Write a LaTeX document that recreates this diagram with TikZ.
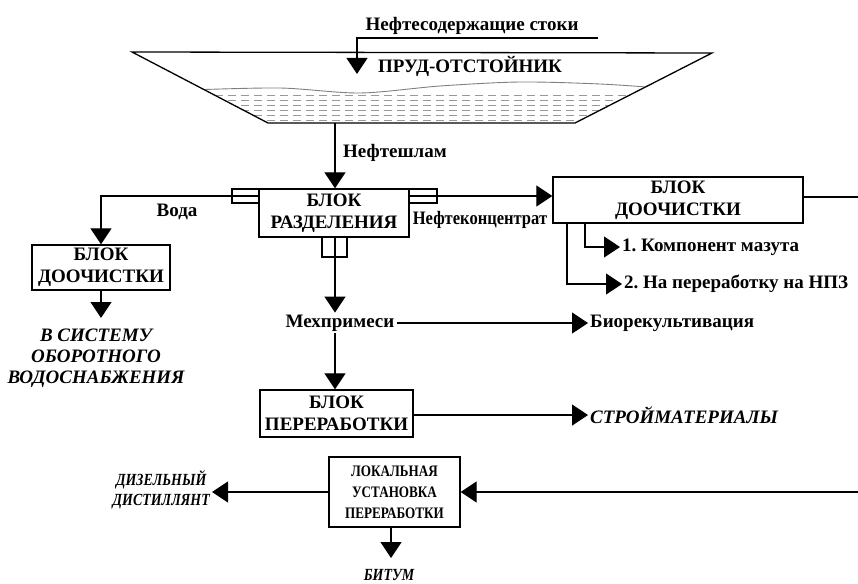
\documentclass[tikz,border=0pt]{standalone}
\usepackage{fontspec}
\setmainfont{Liberation Serif}
\newfontfamily\narrowfont[FakeStretch=0.82]{Liberation Serif}
\newfontfamily\konfont[FakeStretch=0.87]{Liberation Serif}
\usetikzlibrary{arrows.meta}
\frenchspacing
\tikzset{
  ln/.style={line width=1.3pt},
  arr/.style={ln,-{Triangle[width=21pt,length=16pt]}},
  boxn/.style={draw,line width=1.4pt,align=center,inner sep=0pt,font=\fontsize{19}{22}\selectfont\bfseries},
  lbl/.style={inner sep=2pt,font=\fontsize{19}{22}\selectfont\bfseries},
  itl/.style={inner sep=2pt,align=center,font=\fontsize{19}{21}\selectfont\bfseries\itshape},
  narrowbox/.style={draw,line width=1.4pt,align=center,inner sep=0pt,font=\fontsize{16}{21}\selectfont\narrowfont\bfseries},
  narrowit/.style={inner sep=2pt,align=center,font=\fontsize{17}{20}\selectfont\narrowfont\bfseries\itshape},
  nozzle/.style={draw,line width=1.2pt,fill=white},
  water/.style={gray,line width=0.9pt},
}
\begin{document}
\begin{tikzpicture}[x=1pt,y=-1pt]
\useasboundingbox (0,0) rectangle (858,583);

% ---- pond ----
\coordinate (pTL) at (132,52);
\coordinate (pBL) at (268,123);
\coordinate (pBR) at (575,123);
\coordinate (pTR) at (712,53);
\begin{scope}
  \clip (pTL) -- (pBL) -- (pBR) -- (pTR) -- cycle;
  \clip plot[smooth] coordinates {(190,90) (280,88) (360,93) (440,86) (520,82) (600,84) (660,88)} -- (660,130) -- (190,130) -- cycle;
  \foreach \yy in {95,100,...,120}
    \draw[gray!80,line width=0.8pt,dash pattern=on 8pt off 5pt] (150,\yy) -- (720,\yy);
\end{scope}
\begin{scope}
  \clip (pTL) -- (pBL) -- (pBR) -- (pTR) -- cycle;
  \draw[water] plot[smooth] coordinates {(190,90) (280,88) (360,93) (440,86) (520,82) (600,84) (660,88)};
\end{scope}
\draw[ln,line join=miter] (pTL) -- (pBL) -- (pBR) -- (pTR) -- cycle;

\node[lbl] (pondlbl) at (470,66) {ПРУД-ОТСТОЙНИК};
\node[lbl] (inlbl) at (472,26) {Нефтесодержащие стоки};
\coordinate (inA) at (598,38);
\coordinate (inB) at (357,38);
\coordinate (inC) at (357,74);
\draw[arr] (inA) -- (inB) -- (inC);

% ---- separation block ----
\node[boxn,minimum width=150pt,minimum height=48pt] (sep) at (334,213) {БЛОК\\РАЗДЕЛЕНИЯ};
\coordinate (pondOut) at (335,123);
\draw[arr] (pondOut) -- (sep.north -| pondOut);
\node[lbl,anchor=west] (slam) at (341,153) {Нефтешлам};

% nozzles
\draw[nozzle] (232,189) rectangle (259,203);
\draw[nozzle] (409,189) rectangle (437,203);
\draw[nozzle] (322,237) rectangle (347,257);
\coordinate (sepL) at (259,196);
\coordinate (sepR) at (409,196);
\coordinate (sepB) at (335,237);

% left: water
\node[boxn,minimum width=138pt,minimum height=45pt] (doo1) at (101,267.5) {БЛОК\\ДООЧИСТКИ};
\coordinate (wCorner) at (101,196);
\draw[arr] (sepL) -- (wCorner) -- (doo1.north);
\node[lbl] (voda) at (177,212) {Вода};
\node[itl] (sys) at (96,358) {В СИСТЕМУ\\ОБОРОТНОГО\\ВОДОСНАБЖЕНИЯ};
\coordinate (sysTop) at (101,318);
\draw[arr] (doo1.south) -- (sysTop);

% right: oil concentrate
\node[boxn,minimum width=250pt,minimum height=46pt] (doo2) at (678,200) {БЛОК\\ДООЧИСТКИ};
\draw[arr] (sepR) -- (doo2.west |- sepR);
\node[lbl,font=\fontsize{19}{22}\selectfont\konfont\bfseries] (konc) at (480,220) {Нефтеконцентрат};
\coordinate (outR) at (858,197);
\draw[ln] (doo2.east |- outR) -- (outR);
\node[lbl,anchor=west] (k1) at (620,247) {1. Компонент мазута};
\node[lbl,anchor=west] (k2) at (622,284) {2. На переработку на НПЗ};
\coordinate (b1) at (585,223);
\coordinate (b2) at (567,223);
\draw[arr] (b1) |- (k1.west);
\draw[arr] (b2) |- (k2.west);

% mech impurities
\node[lbl] (mech) at (340,323) {Мехпримеси};
\draw[arr] (sepB) -- (mech.north -| sepB);
\node[lbl,anchor=west] (bio) at (588,323) {Биорекультивация};
\draw[arr] (mech.east) -- (bio.west);

\node[boxn,minimum width=153pt,minimum height=47pt] (pere) at (336.5,413.5) {БЛОК\\ПЕРЕРАБОТКИ};
\draw[arr] (mech.south -| sepB) -- (pere.north -| sepB);
\node[itl,anchor=west] (stroy) at (588,415) {СТРОЙМАТЕРИАЛЫ};
\draw[arr] (pere.east |- stroy.west) -- (stroy.west);

% local unit
\node[narrowbox,minimum width=131pt,minimum height=70pt] (loc) at (394.5,492) {ЛОКАЛЬНАЯ\\УСТАНОВКА\\ПЕРЕРАБОТКИ};
\node[narrowit,anchor=east] (diz) at (212,490) {ДИЗЕЛЬНЫЙ\\ДИСТИЛЛЯНТ};
\draw[arr] (loc.west) -- (diz.east |- loc.west);
\coordinate (inR) at (858,492);
\draw[arr] (inR) -- (loc.east);
\node[narrowit] (bit) at (389,575) {БИТУМ};
\coordinate (locB) at (391,527);
\coordinate (bitTop) at (391,558);
\draw[arr] (locB) -- (bitTop);
\end{tikzpicture}
\end{document}
